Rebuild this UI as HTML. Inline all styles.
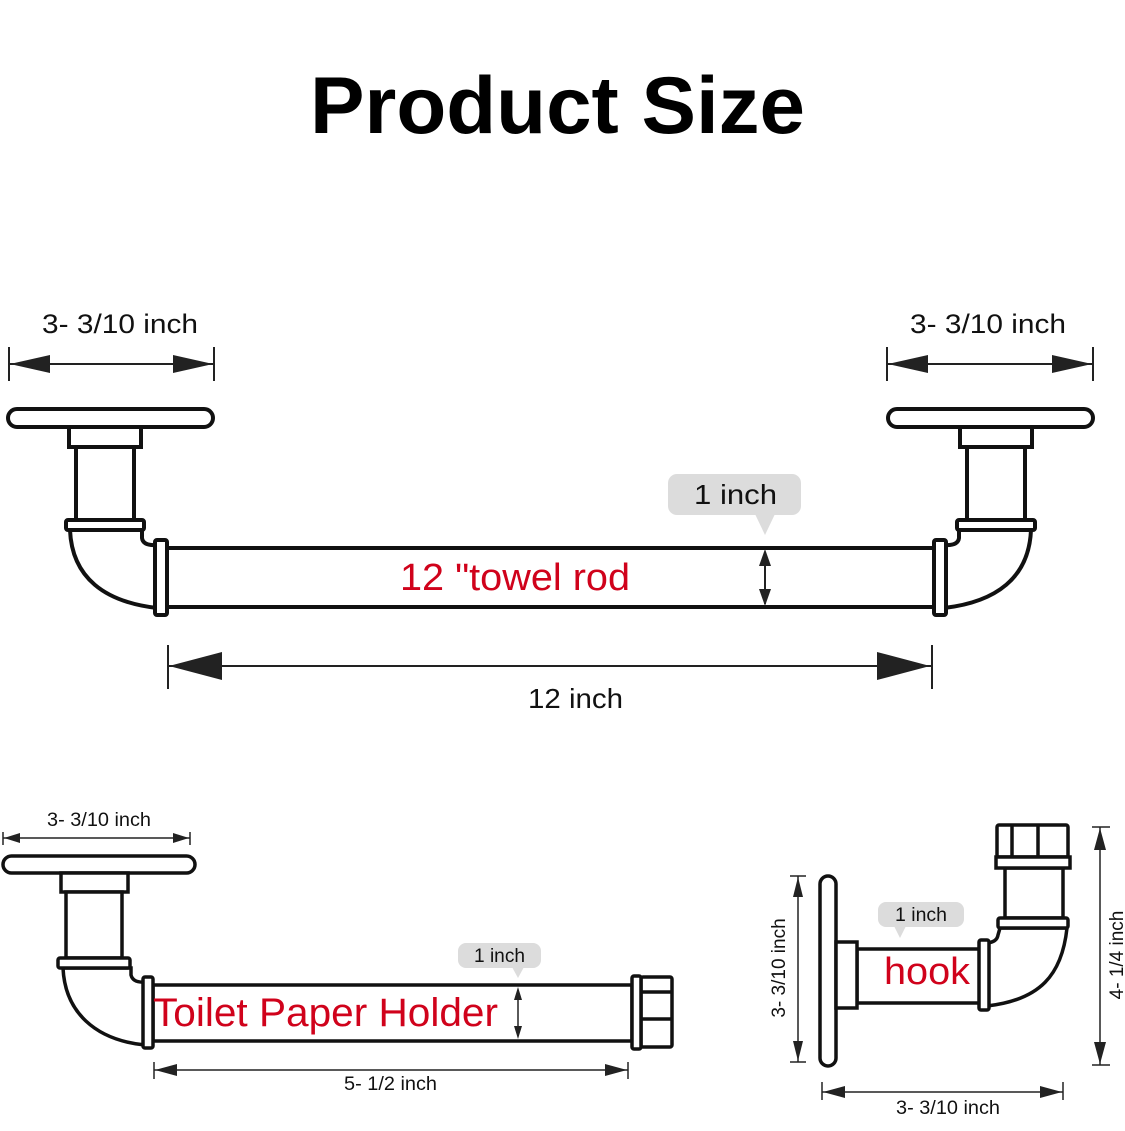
<!DOCTYPE html>
<html><head><meta charset="utf-8"><style>
html,body{margin:0;padding:0;background:#fff}
svg{display:block}
text{font-family:"Liberation Sans",Arial,sans-serif}
</style></head><body>
<svg width="1125" height="1131" viewBox="0 0 1125 1131" xmlns="http://www.w3.org/2000/svg">
<defs>
<g id="tend" fill="#fff" stroke="#111" stroke-width="4">
  <rect x="8" y="409" width="205" height="18" rx="9"/>
  <rect x="69" y="427" width="72" height="20"/>
  <rect x="76" y="447" width="58" height="73"/>
  <path d="M70,530 C72,578 105,602 157,608 L157,545 Q143,546 142,538 L142,530 Z"/>
  <rect x="66" y="520" width="78" height="10" rx="2"/>
  <rect x="155" y="540" width="12" height="75" rx="2"/>
</g>
</defs>
<text x="310" y="133" font-size="81" font-weight="bold" fill="#000" textLength="495" lengthAdjust="spacingAndGlyphs">Product Size</text>

<!-- towel rod -->
<rect x="167" y="548" width="767" height="59" fill="#fff" stroke="#111" stroke-width="4"/>
<use href="#tend"/>
<use href="#tend" transform="translate(1101,0) scale(-1,1)"/>
<text x="400" y="590" font-size="38" fill="#d0021b" textLength="230" lengthAdjust="spacingAndGlyphs">12 "towel rod</text>

<!-- top dims -->
<g stroke="#222" stroke-width="2" fill="#222">
  <line x1="9" y1="347" x2="9" y2="381"/><line x1="214" y1="347" x2="214" y2="381"/>
  <line x1="9" y1="364" x2="214" y2="364"/>
  <polygon points="10,364 50,355 50,373" stroke="none"/><polygon points="213,364 173,355 173,373" stroke="none"/>
  <line x1="887" y1="347" x2="887" y2="381"/><line x1="1093" y1="347" x2="1093" y2="381"/>
  <line x1="887" y1="364" x2="1093" y2="364"/>
  <polygon points="888,364 928,355 928,373" stroke="none"/><polygon points="1092,364 1052,355 1052,373" stroke="none"/>
  <line x1="168" y1="645" x2="168" y2="689"/><line x1="932" y1="645" x2="932" y2="689"/>
  <line x1="168" y1="666" x2="932" y2="666"/>
  <polygon points="169,666 222,652 222,680" stroke="none"/><polygon points="930,666 877,652 877,680" stroke="none"/>
  <line x1="765" y1="552" x2="765" y2="604"/>
  <polygon points="765,549 759,566 771,566" stroke="none"/><polygon points="765,606 759,589 771,589" stroke="none"/>
</g>
<text x="42" y="333" font-size="27" fill="#111" textLength="156" lengthAdjust="spacingAndGlyphs">3- 3/10 inch</text>
<text x="910" y="333" font-size="27" fill="#111" textLength="156" lengthAdjust="spacingAndGlyphs">3- 3/10 inch</text>
<text x="528" y="708" font-size="28" fill="#111" textLength="95" lengthAdjust="spacingAndGlyphs">12 inch</text>
<rect x="668" y="474" width="133" height="41" rx="9" fill="#dcdcdc"/>
<polygon points="755,514 775,514 765,535" fill="#dcdcdc"/>
<text x="694" y="504" font-size="28" fill="#111" textLength="83" lengthAdjust="spacingAndGlyphs">1 inch</text>

<!-- toilet paper holder -->
<g fill="#fff" stroke="#111" stroke-width="3.5">
  <rect x="153" y="985" width="479" height="56"/>
  <rect x="3" y="856" width="192" height="17" rx="8.5"/>
  <rect x="61" y="873" width="67" height="19"/>
  <rect x="66" y="892" width="56" height="66"/>
  <path d="M63,968 C65,1012 95,1040 145,1045 L145,982 Q133,983 131,975 L131,968 Z"/>
  <rect x="58" y="958" width="72" height="10" rx="2"/>
  <rect x="143" y="977" width="10" height="71" rx="2"/>
  <rect x="641" y="977" width="31" height="70" rx="2"/>
  <line x1="641" y1="992" x2="672" y2="992"/><line x1="641" y1="1019" x2="672" y2="1019"/>
  <rect x="632" y="976" width="9" height="73" rx="2"/>
</g>
<text x="153" y="1026" font-size="40" fill="#d0021b" textLength="345" lengthAdjust="spacingAndGlyphs">Toilet Paper Holder</text>
<g stroke="#222" stroke-width="1.5" fill="#222">
  <line x1="3" y1="832" x2="3" y2="845"/><line x1="190" y1="832" x2="190" y2="845"/>
  <line x1="3" y1="838" x2="190" y2="838"/>
  <polygon points="4,838 20,833 20,843" stroke="none"/><polygon points="189,838 173,833 173,843" stroke="none"/>
  <line x1="154" y1="1062" x2="154" y2="1079"/><line x1="628" y1="1062" x2="628" y2="1079"/>
  <line x1="154" y1="1070" x2="628" y2="1070"/>
  <polygon points="155,1070 177,1064 177,1076" stroke="none"/><polygon points="627,1070 605,1064 605,1076" stroke="none"/>
  <line x1="518" y1="990" x2="518" y2="1036"/>
  <polygon points="518,987 514,1000 522,1000" stroke="none"/><polygon points="518,1039 514,1026 522,1026" stroke="none"/>
</g>
<text x="47" y="826" font-size="19" fill="#111" textLength="104" lengthAdjust="spacingAndGlyphs">3- 3/10 inch</text>
<text x="344" y="1090" font-size="19" fill="#111" textLength="93" lengthAdjust="spacingAndGlyphs">5- 1/2 inch</text>
<rect x="458" y="943" width="83" height="25" rx="8" fill="#dcdcdc"/>
<polygon points="512,967 524,967 518,978" fill="#dcdcdc"/>
<text x="474" y="962" font-size="19" fill="#111" textLength="51" lengthAdjust="spacingAndGlyphs">1 inch</text>

<!-- hook -->
<g fill="#fff" stroke="#111" stroke-width="3.5">
  <rect x="857" y="949" width="124" height="54"/>
  <rect x="820" y="876" width="16" height="190" rx="8"/>
  <rect x="836" y="942" width="21" height="66"/>
  <rect x="1005" y="868" width="58" height="50"/>
  <path d="M1067,928 C1062,975 1040,1000 987,1006 L987,943 Q997,942 998,935 L1000,928 Z"/>
  <rect x="998" y="918" width="70" height="10" rx="2"/>
  <rect x="979" y="940" width="10" height="70" rx="2"/>
  <rect x="997" y="825" width="71" height="32" rx="2"/>
  <line x1="1012" y1="825" x2="1012" y2="857"/><line x1="1038" y1="825" x2="1038" y2="857"/>
  <rect x="996" y="857" width="74" height="11"/>
</g>
<text x="884" y="984" font-size="38" fill="#d0021b" textLength="86" lengthAdjust="spacingAndGlyphs">hook</text>
<rect x="878" y="902" width="86" height="25" rx="8" fill="#dcdcdc"/>
<polygon points="894,926 906,926 900,938" fill="#dcdcdc"/>
<text x="895" y="921" font-size="19" fill="#111" textLength="52" lengthAdjust="spacingAndGlyphs">1 inch</text>
<g stroke="#222" stroke-width="1.5" fill="#222">
  <line x1="790" y1="876" x2="806" y2="876"/><line x1="790" y1="1062" x2="806" y2="1062"/>
  <line x1="798" y1="876" x2="798" y2="1062"/>
  <polygon points="798,877 793,897 803,897" stroke="none"/><polygon points="798,1061 793,1041 803,1041" stroke="none"/>
  <line x1="1092" y1="827" x2="1110" y2="827"/><line x1="1092" y1="1065" x2="1110" y2="1065"/>
  <line x1="1100" y1="827" x2="1100" y2="1065"/>
  <polygon points="1100,828 1094,850 1106,850" stroke="none"/><polygon points="1100,1064 1094,1042 1106,1042" stroke="none"/>
  <line x1="822" y1="1082" x2="822" y2="1100"/><line x1="1063" y1="1082" x2="1063" y2="1100"/>
  <line x1="822" y1="1092" x2="1063" y2="1092"/>
  <polygon points="823,1092 845,1086 845,1098" stroke="none"/><polygon points="1062,1092 1040,1086 1040,1098" stroke="none"/>
</g>
<text transform="translate(785,968) rotate(-90)" font-size="19" text-anchor="middle" fill="#111">3- 3/10 inch</text>
<text transform="translate(1123,955) rotate(-90)" font-size="19" text-anchor="middle" fill="#111">4- 1/4  inch</text>
<text x="896" y="1114" font-size="19" fill="#111" textLength="104" lengthAdjust="spacingAndGlyphs">3- 3/10 inch</text>
</svg>
</body></html>
